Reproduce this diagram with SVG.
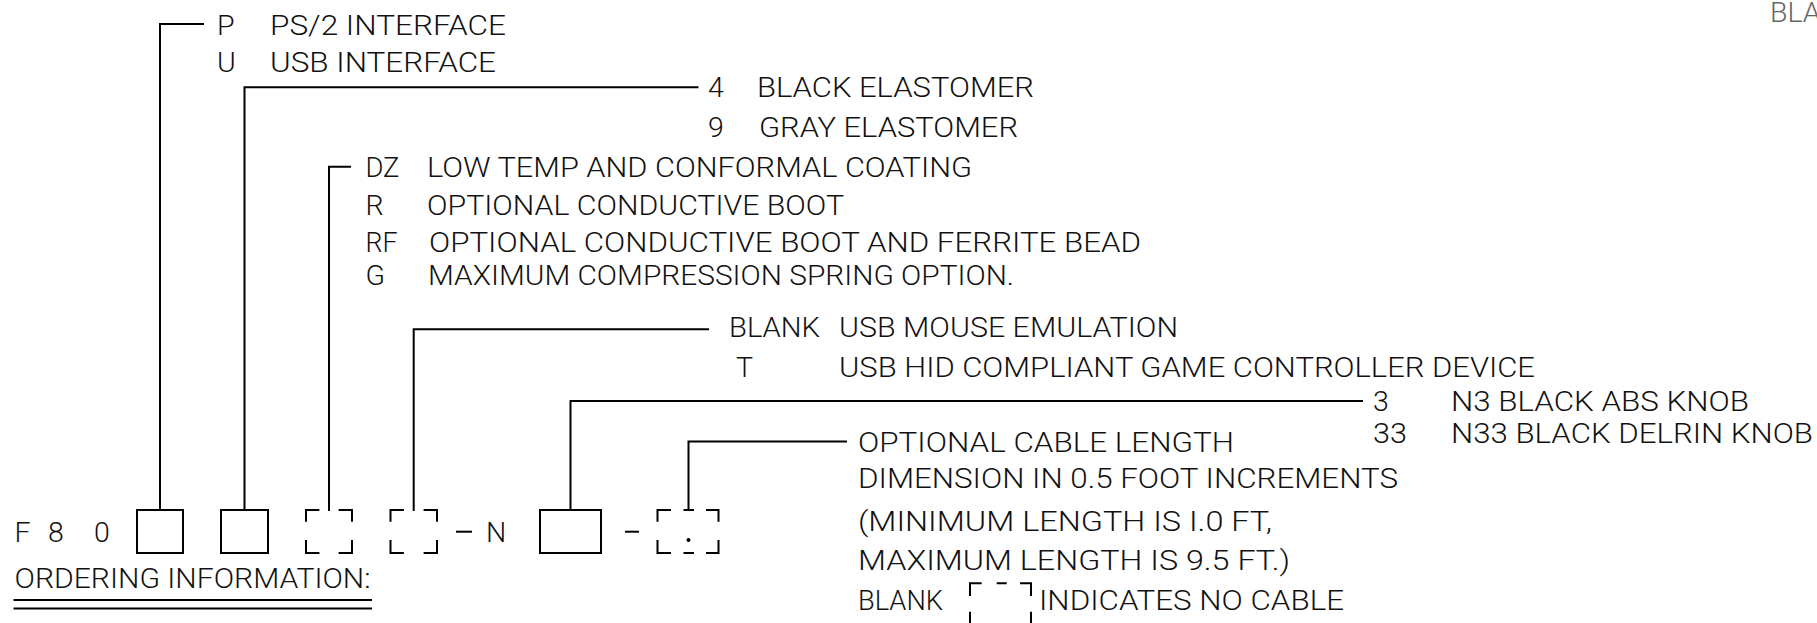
<svg xmlns="http://www.w3.org/2000/svg" width="1817" height="623" viewBox="0 0 1817 623">
<style>
  .t { font-family: "Roboto", "Liberation Sans", Arial, sans-serif; font-weight: 300; font-size: 28.5px; fill: #111; }
  .g { fill: #666; }
  .ln { stroke: #000; stroke-width: 2; fill: none; stroke-linecap: square; }
  .box { stroke: #000; stroke-width: 2; fill: none; }
</style>
<rect width="1817" height="623" fill="#fff"/>

<g id="connectors" class="ln">
  <path d="M160,510 V24 H203"/>
  <path d="M244.5,510 V87.3 H697.5"/>
  <path d="M329,510 V166.7 H350"/>
  <path d="M413.7,510 V329.3 H708"/>
  <path d="M570.5,510 V401 H1362"/>
  <path d="M688.5,510 V441.5 H846"/>
</g>

<g id="code-prefix">
  <text class="t" x="14.5" y="542">F</text>
  <text class="t" x="48" y="542">8</text>
  <text class="t" x="94" y="542">0</text>
</g>

<g id="slot-interface">
  <rect class="box" x="137" y="510" width="46" height="43"/>
</g>
<g id="slot-elastomer">
  <rect class="box" x="221" y="510" width="47" height="43"/>
</g>
<g id="slot-option">
  <path class="box" d="M306,521.7 V510 H319.4 M338.6,510 H352 V521.7 M352,540 V553 H338.6 M319.4,553 H306 V540"/>
</g>
<g id="slot-emulation">
  <path class="box" d="M390.5,521.7 V510 H403.9 M423.6,510 H437 V521.7 M437,540 V553 H423.6 M403.9,553 H390.5 V540"/>
</g>
<g id="dash-n">
  <path class="ln" d="M457,531.7 H471"/>
  <text class="t" x="486" y="542">N</text>
</g>
<g id="slot-knob">
  <rect class="box" x="540" y="510" width="61" height="43"/>
</g>
<g id="dash-cable">
  <path class="ln" d="M626,531.7 H638"/>
</g>
<g id="slot-cable">
  <path class="box" d="M657.5,521.7 V510 H671 M683.5,510 H694 M706,510 H718.5 V521.7 M718.5,540 V553 H706 M694,553 H683.5 M671,553 H657.5 V540"/>
  <circle cx="688.5" cy="540" r="2" fill="#000"/>
</g>

<g id="title">
  <text class="t" x="14.5" y="588" textLength="356" lengthAdjust="spacingAndGlyphs">ORDERING INFORMATION:</text>
  <path class="ln" d="M14.5,600 H371 M14.5,608.5 H371" stroke-linecap="butt"/>
</g>

<g id="opt-interface">
  <text class="t" x="217" y="35">P</text>
  <text class="t" x="270" y="35" textLength="236" lengthAdjust="spacingAndGlyphs">PS/2 INTERFACE</text>
  <text class="t" x="217" y="72">U</text>
  <text class="t" x="270" y="72" textLength="226" lengthAdjust="spacingAndGlyphs">USB INTERFACE</text>
</g>

<g id="opt-elastomer">
  <text class="t" x="708" y="97">4</text>
  <text class="t" x="757" y="97" textLength="277" lengthAdjust="spacingAndGlyphs">BLACK ELASTOMER</text>
  <text class="t" x="708" y="137">9</text>
  <text class="t" x="759" y="137" textLength="259" lengthAdjust="spacingAndGlyphs">GRAY ELASTOMER</text>
</g>

<g id="opt-option">
  <text class="t" x="365.5" y="177" textLength="34" lengthAdjust="spacingAndGlyphs">DZ</text>
  <text class="t" x="427" y="177" textLength="545" lengthAdjust="spacingAndGlyphs">LOW TEMP AND CONFORMAL COATING</text>
  <text class="t" x="365.5" y="215">R</text>
  <text class="t" x="427" y="215" textLength="417" lengthAdjust="spacingAndGlyphs">OPTIONAL CONDUCTIVE BOOT</text>
  <text class="t" x="365.5" y="252" textLength="32" lengthAdjust="spacingAndGlyphs">RF</text>
  <text class="t" x="429" y="252" textLength="712" lengthAdjust="spacingAndGlyphs">OPTIONAL CONDUCTIVE BOOT AND FERRITE BEAD</text>
  <text class="t" x="365.5" y="285">G</text>
  <text class="t" x="428" y="285" textLength="586" lengthAdjust="spacingAndGlyphs">MAXIMUM COMPRESSION SPRING OPTION.</text>
</g>

<g id="opt-emulation">
  <text class="t" x="729" y="337" textLength="91" lengthAdjust="spacingAndGlyphs">BLANK</text>
  <text class="t" x="839" y="337" textLength="339" lengthAdjust="spacingAndGlyphs">USB MOUSE EMULATION</text>
  <text class="t" x="736" y="377">T</text>
  <text class="t" x="839" y="377" textLength="696" lengthAdjust="spacingAndGlyphs">USB HID COMPLIANT GAME CONTROLLER DEVICE</text>
</g>

<g id="opt-knob">
  <text class="t" x="1373" y="411">3</text>
  <text class="t" x="1451" y="411" textLength="298" lengthAdjust="spacingAndGlyphs">N3 BLACK ABS KNOB</text>
  <text class="t" x="1373" y="443" textLength="34" lengthAdjust="spacingAndGlyphs">33</text>
  <text class="t" x="1451" y="443" textLength="362" lengthAdjust="spacingAndGlyphs">N33 BLACK DELRIN KNOB</text>
</g>

<g id="opt-cable">
  <text class="t" x="858" y="452" textLength="376" lengthAdjust="spacingAndGlyphs">OPTIONAL CABLE LENGTH</text>
  <text class="t" x="858" y="488" textLength="540" lengthAdjust="spacingAndGlyphs">DIMENSION IN 0.5 FOOT INCREMENTS</text>
  <text class="t" x="858" y="531" textLength="414" lengthAdjust="spacingAndGlyphs">(MINIMUM LENGTH IS I.0 FT,</text>
  <text class="t" x="858" y="570" textLength="432" lengthAdjust="spacingAndGlyphs">MAXIMUM LENGTH IS 9.5 FT.)</text>
  <text class="t" x="858" y="610" textLength="85" lengthAdjust="spacingAndGlyphs">BLANK</text>
  <path class="box" d="M970,596 V583.3 H981.7 M996.7,583.3 H1006.7 M1020,583.3 H1031 V596 M970,611.7 V630 M1031,611.7 V630"/>
  <text class="t" x="1039" y="610" textLength="305" lengthAdjust="spacingAndGlyphs">INDICATES NO CABLE</text>
</g>

<g id="edge-text">
  <text class="t g" x="1770" y="22">BLA</text>
</g>
</svg>
